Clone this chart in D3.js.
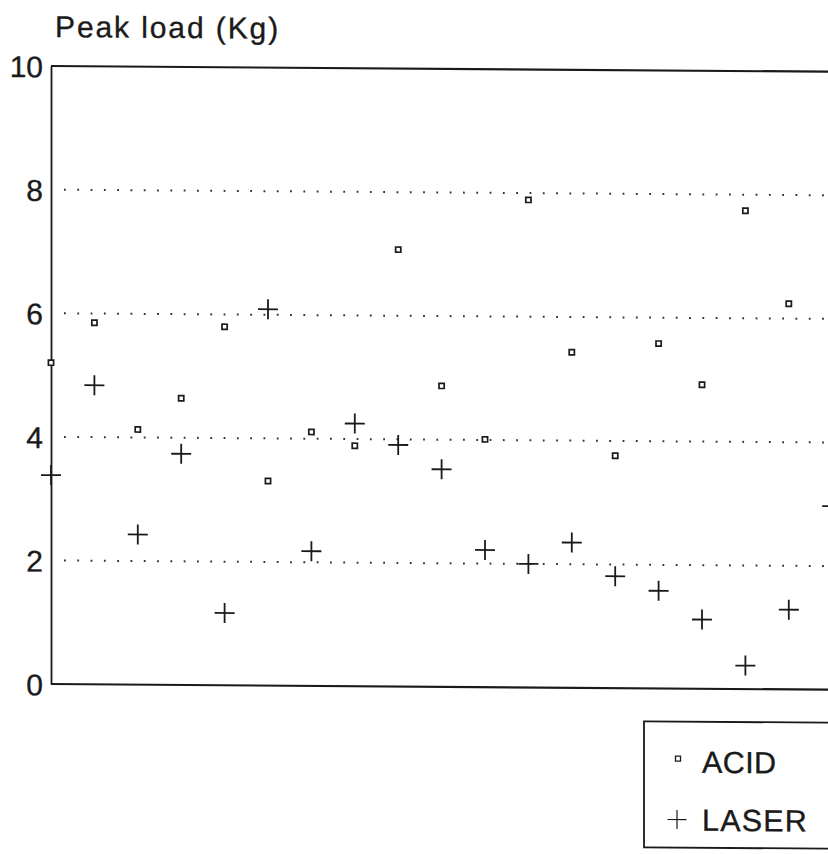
<!DOCTYPE html>
<html>
<head>
<meta charset="utf-8">
<script src="https://cdn.jsdelivr.net/npm/d3@7"></script>
<style>
    body { margin: 0; background: #fff; }
    svg { display: block; font-family: 'Liberation Sans', Arial, Helvetica, sans-serif; }
    svg text { stroke: #1a1a1a; stroke-width: 0.35px; }
</style>
</head>
<body>
<script>
(function () {
    'use strict';

    // sample number along the x axis (no labels printed)
    var samples = [1, 2, 3, 4, 5, 6, 7, 8, 9, 10, 11, 12, 13, 14, 15, 16, 17, 18, 19];
    var acid = [5.2, 5.85, 4.13, 4.64, 5.8, 3.31, 4.11, 3.89, 7.07, 4.87, 4.01, 7.89, 5.43, 3.76, 5.58, 4.92, 7.74, 6.24];
    var laser = [3.38, 4.84, 2.43, 3.74, 1.17, 6.09, 2.18, 4.25, 3.91, 3.52, 2.22, 2.0, 2.35, 1.81, 1.58, 1.12, 0.38, 1.29, 2.97];
    var yTicks = [0, 2, 4, 6, 8, 10];
    var gridValues = [2, 4, 6, 8];
    var seriesNames = ['ACID', 'LASER'];

    var width = 828;
    var height = 854;
    var left = 51;
    var ink = '#1a1a1a';

    var x = d3.scaleLinear().domain([1, 19]).range([left, left + 18 * 43.4]);
    var y = d3.scaleLinear().domain([0, 10]).range([684, 66]);

    var svg = d3.select('body').append('svg')
        .attr('width', width)
        .attr('height', height);

    // the scanned page is slightly skewed
    var root = svg.append('g')
        .attr('transform', 'translate(' + left + ',684) skewY(0.42) translate(' + (-left) + ',-684)');

    root.append('text')
        .attr('x', 55)
        .attr('y', 37)
        .attr('font-size', 30)
        .attr('letter-spacing', 1.9)
        .attr('fill', ink)
        .text('Peak load (Kg)');

    // dotted grid
    root.append('g').selectAll('line')
        .data(gridValues)
      .enter().append('line')
        .attr('x1', 64)
        .attr('x2', 860)
        .attr('y1', function (d) { return y(d); })
        .attr('y2', function (d) { return y(d); })
        .style('stroke', '#333')
        .style('stroke-width', 2)
        .style('stroke-dasharray', '1.8,11.5');

    // top and bottom frame lines
    root.append('g').selectAll('line')
        .data([0, 10])
      .enter().append('line')
        .attr('x1', left)
        .attr('x2', 860)
        .attr('y1', function (d) { return y(d); })
        .attr('y2', function (d) { return y(d); })
        .style('stroke', ink)
        .style('stroke-width', 2.2);

    var yAxis = d3.axisLeft(y)
        .tickValues(yTicks)
        .tickFormat(d3.format('d'))
        .tickSize(0)
        .tickPadding(8);

    var axisG = root.append('g')
        .attr('transform', 'translate(' + left + ',0)')
        .call(yAxis);
    axisG.select('.domain')
        .style('stroke', ink)
        .style('stroke-width', 1.8);
    axisG.selectAll('text')
        .attr('font-size', 30)
        .attr('font-family', 'Liberation Sans, Arial, sans-serif')
        .attr('fill', ink)
        .attr('dy', '0.36em');

    function plus (sel, half) {
        sel.append('line')
            .attr('x1', -half).attr('x2', half)
            .attr('y1', 0).attr('y2', 0);
        sel.append('line')
            .attr('x1', 0).attr('x2', 0)
            .attr('y1', -half).attr('y2', half);
    }

    root.append('g').selectAll('rect')
        .data(acid)
      .enter().append('rect')
        .attr('x', function (d, i) { return x(samples[i]) - 2.6; })
        .attr('y', function (d) { return y(d) - 2.6; })
        .attr('width', 5.2)
        .attr('height', 5.2)
        .style('fill', '#fff')
        .style('stroke', ink)
        .style('stroke-width', 1.7);

    root.append('g').selectAll('g')
        .data(laser)
      .enter().append('g')
        .attr('transform', function (d, i) { return 'translate(' + x(samples[i]) + ',' + y(d) + ')'; })
        .style('stroke', ink)
        .style('stroke-width', 1.8)
        .each(function () { plus(d3.select(this), 10); });

    // legend
    var legend = root.append('g');
    legend.append('rect')
        .attr('x', 644)
        .attr('y', 717)
        .attr('width', 220)
        .attr('height', 126)
        .style('fill', '#fff')
        .style('stroke', ink)
        .style('stroke-width', 1.8);

    legend.append('rect')
        .attr('x', 675.5)
        .attr('y', 751.5)
        .attr('width', 5)
        .attr('height', 5)
        .style('fill', '#fff')
        .style('stroke', ink)
        .style('stroke-width', 1.3);

    var lp = legend.append('g')
        .attr('transform', 'translate(677,815)')
        .style('stroke', ink)
        .style('stroke-width', 1.2);
    plus(lp, 9.5);

    legend.selectAll('text')
        .data(seriesNames)
      .enter().append('text')
        .attr('x', 702)
        .attr('y', function (d, i) { return 768 + i * 58; })
        .attr('font-size', 30.5)
        .attr('letter-spacing', function (d, i) { return i ? 1.2 : 0.4; })
        .attr('fill', ink)
        .text(function (d) { return d; });
})();
</script>
</body>
</html>
